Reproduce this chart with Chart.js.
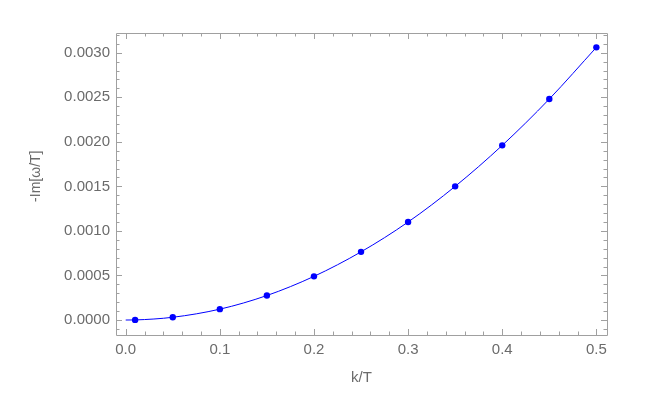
<!DOCTYPE html>
<html>
<head>
<meta charset="utf-8">
<script src="https://cdn.jsdelivr.net/npm/chart.js@4/dist/chart.umd.min.js"></script>
<style>
html,body{margin:0;padding:0;background:#fff;}
#wrap{width:648px;height:405px;position:relative;}
</style>
</head>
<body>
<div id="wrap"><canvas id="c" width="648" height="405"></canvas></div>
<script>
// Data
const kValues = [0.01, 0.05, 0.10, 0.15, 0.20, 0.25, 0.30, 0.35, 0.40, 0.45, 0.50];
const imValues = [0.0000012, 0.000031, 0.000122, 0.000275, 0.00049, 0.000765, 0.0011, 0.0015, 0.00196, 0.00248, 0.00306];
// fitted curve (starts at origin)
const curveK = [0.0, 0.01, 0.05, 0.10, 0.15, 0.20, 0.25, 0.30, 0.35, 0.40, 0.45, 0.50];
const curveVal = [0.0, 0.0000012, 0.000031, 0.000122, 0.000275, 0.00049, 0.000765, 0.0011, 0.0015, 0.00196, 0.00248, 0.00306];
const xTicks = [0.0, 0.1, 0.2, 0.3, 0.4, 0.5];
const xTickLabels = ["0.0", "0.1", "0.2", "0.3", "0.4", "0.5"];
const yTicks = [0.0, 0.0005, 0.0010, 0.0015, 0.0020, 0.0025, 0.0030];
const yTickLabels = ["0.0000", "0.0005", "0.0010", "0.0015", "0.0020", "0.0025", "0.0030"];
const xMinorStep = 0.02;
const yMinorStep = 0.0001;

const frameColor = '#a0a0a0';
const textColor = '#6b6b6b';
const blue = '#0000ff';
const fam = 'Liberation Sans, Arial, sans-serif';

const framePlugin = {
  id: 'frame',
  afterDatasetsDraw(chart) {
    const {ctx, chartArea: a, scales} = chart;
    const xs = scales.x, ys = scales.y;
    ctx.save();
    ctx.strokeStyle = frameColor;
    ctx.lineWidth = 1;
    ctx.beginPath();
    ctx.rect(Math.round(a.left) + 0.5, Math.round(a.top) + 0.5, Math.round(a.right - a.left), Math.round(a.bottom - a.top));
    ctx.stroke();
    const majL = 6, minL = 3.5;
    ctx.beginPath();
    const xmaj = new Set(xTicks.map(v => v.toFixed(3)));
    for (let i = -1; i <= 26; i++) {
      const v = i * xMinorStep;
      if (v < xs.min || v > xs.max) continue;
      const px = Math.round(xs.getPixelForValue(v)) + 0.5;
      const L = xmaj.has(v.toFixed(3)) ? majL : minL;
      ctx.moveTo(px, a.bottom); ctx.lineTo(px, a.bottom - L);
      ctx.moveTo(px, a.top); ctx.lineTo(px, a.top + L);
    }
    for (let i = -2; i <= 33; i++) {
      const v = i * yMinorStep;
      if (v < ys.min || v > ys.max) continue;
      const py = Math.round(ys.getPixelForValue(v)) + 0.5;
      const L = (i % 5 === 0) ? majL : minL;
      ctx.moveTo(a.left, py); ctx.lineTo(a.left + L, py);
      ctx.moveTo(a.right, py); ctx.lineTo(a.right - L, py);
    }
    ctx.stroke();
    ctx.restore();
  }
};

new Chart(document.getElementById('c'), {
  type: 'scatter',
  data: {
    datasets: [
      {
        type: 'line',
        data: curveK.map((k, i) => ({x: k, y: curveVal[i]})),
        borderColor: blue,
        borderWidth: 1,
        pointRadius: 0,
        cubicInterpolationMode: 'monotone',
        fill: false
      },
      {
        data: kValues.map((k, i) => ({x: k, y: imValues[i]})),
        backgroundColor: blue,
        borderColor: blue,
        pointRadius: 3.2,
        pointBorderWidth: 0
      }
    ]
  },
  options: {
    responsive: false,
    animation: false,
    devicePixelRatio: 1,
    layout: {padding: {top: 33, right: 41, left: 0, bottom: 0}},
    plugins: {legend: {display: false}, tooltip: {enabled: false}},
    scales: {
      x: {
        type: 'linear',
        min: -0.0103,
        max: 0.5113,
        grid: {display: false, drawTicks: false},
        border: {display: false},
        afterBuildTicks: s => { s.ticks = xTicks.map(v => ({value: v})); },
        afterFit: s => { s.height = 70; },
        ticks: {
          color: textColor,
          font: {family: fam, size: 15},
          padding: 6,
          maxRotation: 0,
          autoSkip: false,
          callback: (v) => { const i = xTicks.findIndex(t => Math.abs(t - v) < 1e-9); return i >= 0 ? xTickLabels[i] : ''; }
        },
        title: {
          display: true, text: 'k/T', color: textColor,
          font: {family: fam, size: 15},
          padding: {top: 0, bottom: 18.5}
        }
      },
      y: {
        type: 'linear',
        min: -0.000168,
        max: 0.003221,
        grid: {display: false, drawTicks: false},
        border: {display: false},
        afterBuildTicks: s => { s.ticks = yTicks.map(v => ({value: v})); },
        afterFit: s => { s.width = 116; },
        ticks: {
          color: textColor,
          font: {family: fam, size: 15},
          padding: 6,
          autoSkip: false,
          callback: (v) => { const i = yTicks.findIndex(t => Math.abs(t - v) < 1e-12); return i >= 0 ? yTickLabels[i] : ''; }
        },
        title: {
          display: true, text: '\u00a0\u00a0\u00a0\u00a0-Im[\u03c9/T]', color: textColor,
          font: {family: fam, size: 14},
          padding: {top: 27.6, bottom: 0}
        }
      }
    }
  },
  plugins: [framePlugin]
});
</script>
</body>
</html>
